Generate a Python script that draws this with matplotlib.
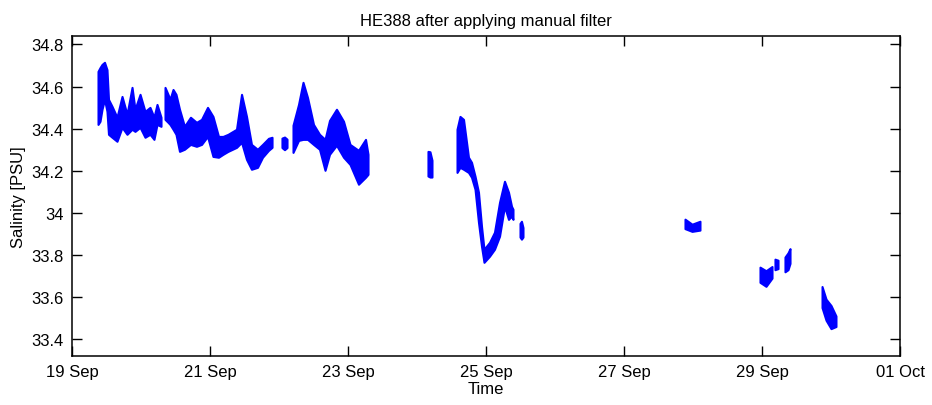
import numpy as np
import matplotlib
matplotlib.use("Agg")
import matplotlib.pyplot as plt

plt.rcParams['font.family'] = ['Liberation Sans', 'DejaVu Sans']

# days after 19 Sep 00:00, lower and upper edge of the salinity band (PSU)
seg_days = [
    [0.377, 0.406, 0.435, 0.471, 0.507, 0.529, 0.580, 0.652, 0.725, 0.797,
     0.870, 0.913, 0.986, 1.058, 1.130, 1.188, 1.232, 1.290],
    [1.348, 1.391, 1.420, 1.464, 1.507, 1.558, 1.630, 1.717, 1.804, 1.877,
     1.964, 2.043, 2.123, 2.188, 2.261, 2.384, 2.457, 2.529, 2.601, 2.688,
     2.761, 2.848, 2.899],
    [3.043, 3.080, 3.116],
    [3.203, 3.283, 3.348, 3.413, 3.500, 3.587, 3.667, 3.732, 3.833, 3.935,
     4.029, 4.152, 4.254, 4.290],
    [5.159, 5.188, 5.217],
    [5.580, 5.623, 5.674, 5.746, 5.790, 5.841, 5.891, 5.935, 5.971, 6.051,
     6.123, 6.196, 6.268, 6.326, 6.370, 6.391],
    [6.493, 6.514, 6.536],
    [8.884, 8.986, 9.101],
    [9.971, 10.058, 10.145],
    [10.188, 10.232],
    [10.333, 10.377, 10.406],
    [10.870, 10.928, 11.000, 11.072],
]
seg_low = [
    [34.420, 34.435, 34.492, 34.539, 34.482, 34.373, 34.359, 34.340, 34.406, 34.373,
     34.397, 34.387, 34.406, 34.359, 34.373, 34.349, 34.420, 34.411],
    [34.444, 34.430, 34.420, 34.397, 34.373, 34.292, 34.302, 34.325, 34.316, 34.325,
     34.363, 34.268, 34.264, 34.278, 34.292, 34.311, 34.335, 34.254, 34.207, 34.216,
     34.264, 34.297, 34.311],
    [34.310, 34.300, 34.310],
    [34.287, 34.344, 34.349, 34.349, 34.325, 34.302, 34.202, 34.278, 34.321, 34.264,
     34.230, 34.136, 34.169, 34.183],
    [34.175, 34.170, 34.170],
    [34.192, 34.216, 34.207, 34.192, 34.169, 34.112, 33.955, 33.841, 33.765, 33.794,
     33.827, 33.889, 34.031, 33.969, 33.984, 33.969],
    [33.885, 33.875, 33.885],
    [33.925, 33.912, 33.918],
    [33.670, 33.651, 33.690],
    [33.730, 33.735],
    [33.720, 33.730, 33.760],
    [33.550, 33.490, 33.450, 33.460],
]
seg_high = [
    [34.672, 34.690, 34.705, 34.715, 34.680, 34.539, 34.506, 34.454, 34.553, 34.468,
     34.596, 34.492, 34.563, 34.482, 34.501, 34.454, 34.515, 34.454],
    [34.596, 34.563, 34.539, 34.586, 34.563, 34.492, 34.411, 34.454, 34.430, 34.444,
     34.501, 34.458, 34.363, 34.363, 34.373, 34.397, 34.563, 34.458, 34.325, 34.302,
     34.325, 34.354, 34.359],
    [34.355, 34.360, 34.350],
    [34.416, 34.515, 34.620, 34.548, 34.420, 34.373, 34.349, 34.439, 34.492, 34.435,
     34.325, 34.297, 34.349, 34.278],
    [34.292, 34.290, 34.250],
    [34.397, 34.458, 34.444, 34.264, 34.240, 34.174, 34.098, 33.936, 33.827, 33.860,
     33.908, 34.050, 34.150, 34.098, 34.031, 34.017],
    [33.950, 33.960, 33.930],
    [33.970, 33.946, 33.960],
    [33.742, 33.725, 33.745],
    [33.780, 33.775],
    [33.790, 33.810, 33.830],
    [33.650, 33.590, 33.560, 33.510],
]

tick_days = [0, 2, 4, 6, 8, 10, 12]
tick_labels = ['19 Sep', '21 Sep', '23 Sep', '25 Sep', '27 Sep', '29 Sep', '01 Oct']
sal_ticks = [33.4, 33.6, 33.8, 34.0, 34.2, 34.4, 34.6, 34.8]
sal_labels = ['33.4', '33.6', '33.8', '34', '34.2', '34.4', '34.6', '34.8']

fig = plt.figure(figsize=(9.32, 4.06), dpi=100)
ax = fig.add_axes([72/932, 49/406, 828/932, 320/406])

for d, lo, hi in zip(seg_days, seg_low, seg_high):
    ax.fill_between(d, lo, hi, color='#0000ff', linewidth=1.5, edgecolor='#0000ff')

ax.set_xlim(0, 12)
ax.set_ylim(33.32, 34.84)
ax.set_xticks(tick_days)
ax.set_xticklabels(tick_labels)
ax.set_yticks(sal_ticks)
ax.set_yticklabels(sal_labels)
ax.tick_params(direction='in', length=7, width=1, top=True, right=True,
               labelsize=12, pad=6)
for s in ax.spines.values():
    s.set_linewidth(1.1)

ax.set_title('HE388 after applying manual filter', fontsize=12, pad=8)
ax.set_xlabel('Time', fontsize=12, labelpad=1)
ax.set_ylabel('Salinity [PSU]', fontsize=12, labelpad=4)

fig.savefig('out.png', dpi=100)
